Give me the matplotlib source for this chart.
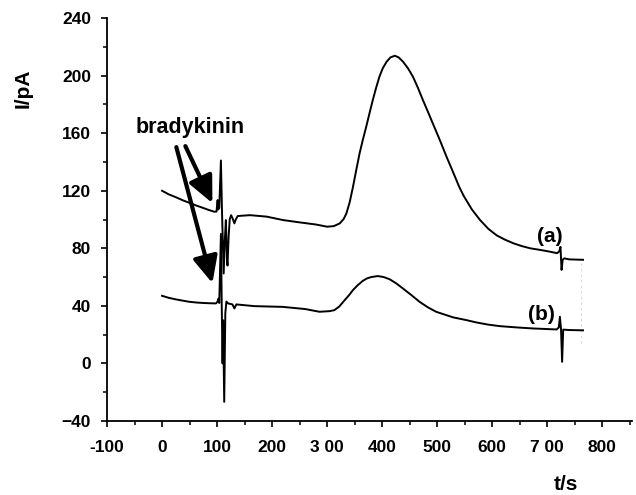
import matplotlib
matplotlib.use("Agg")
import matplotlib.pyplot as plt
from matplotlib.ticker import MultipleLocator, FixedLocator

plt.rcParams['font.family'] = ['Liberation Sans', 'DejaVu Sans']
plt.rcParams['font.weight'] = 'bold'

# ---- data ----
t_a = [0, 12, 25, 38, 51, 63, 75, 85, 95, 99, 101, 102, 104, 107, 109, 112, 114, 116, 118,
       119, 121, 123, 125.5, 128, 131.5, 134, 137.5, 144, 160, 190, 220, 250, 280, 300,
       312, 323, 330, 335, 341, 347, 353, 359, 365, 371, 377, 383, 389, 395, 401, 408,
       415, 423, 430, 438, 447, 456, 465, 474, 483, 492, 505, 517, 529, 540, 548, 563,
       578, 593, 608, 623, 639, 654, 669, 685, 700, 718, 722, 724, 726, 728, 731, 740, 765]
i_a = [120, 117.5, 115.5, 113.3, 111.4, 109.6, 108, 106.6, 105.4, 105.5, 113.5, 107, 108,
       141, 105, 62.5, 85, 99.6, 72, 68, 88, 100, 103, 101, 97.3, 100, 102.4, 102.6, 103,
       102, 99.6, 98, 96.5, 95, 95.4, 97.3, 100.3, 104.2, 112, 122.7, 134.5, 146, 155.5,
       164.4, 173.8, 183, 191.5, 199.2, 205, 209.6, 212.6, 213.8, 212.6, 209.6, 205,
       199.2, 191.5, 183, 175, 166.8, 155, 143.6, 132.8, 122.7, 116.5, 107, 99.6, 93.5, 89,
       86, 83.4, 81.5, 80, 79, 78, 76.6, 78, 81, 65, 72, 73, 72.3, 72]

t_b = [0, 12, 25, 38, 50, 63, 75, 87, 98, 101, 102.5, 104, 107, 108.5, 110, 111, 113, 115,
       117, 120, 128, 131.5, 135, 168, 219, 260, 286, 304, 313, 322, 332, 340, 347, 356,
       365, 372, 380, 392, 403, 414, 426, 438, 453, 468, 483, 498, 513, 529, 553, 571,
       592, 614, 645, 674, 717, 721, 723, 725, 727, 729, 740, 765]
i_b = [47, 45.6, 44.5, 43.6, 42.8, 42.3, 42, 41.8, 41.7, 43, 45, 42, 90, 40, 0, 30, -26.7,
       35, 43, 41.7, 41, 38.2, 41, 39.8, 39.3, 37.8, 35.9, 36.3, 37, 39.5, 44, 47.5, 51,
       54.5, 57.4, 59, 60, 60.7, 60, 58.4, 55.5, 52, 47.5, 42.8, 39, 35.9, 34, 32, 30.1,
       28.5, 27, 25.9, 25, 24.3, 23.6, 25, 32.4, 24, 1.1, 23.5, 23.2, 23]

# faint scanning remnant (dotted gray trace at the right end)
t_ghost = [762, 762]
i_ghost = [69.7, 12.7]

x_major = [-100, 0, 100, 200, 300, 400, 500, 600, 700, 800]
x_labels = ['-100', '0', '100', '200', '3 00', '400', '500', '600', '7 00', '800']
y_major = [-40, 0, 40, 80, 120, 160, 200, 240]

fig = plt.figure(figsize=(6.36, 4.95), dpi=100)
ax = fig.add_axes([107 / 636, 1 - 421 / 495, (632 - 107) / 636, (421 - 18) / 495])

ax.plot(t_ghost, i_ghost, color='#d8d8d8', lw=0.8, ls=(0, (2, 3)))
ax.plot(t_a, i_a, color='black', lw=1.4, solid_joinstyle='round')
ax.plot(t_b, i_b, color='black', lw=1.4, solid_joinstyle='round')

ax.set_xlim(-100, 854)
ax.set_ylim(-40, 240)

ax.xaxis.set_major_locator(FixedLocator(x_major))
ax.set_xticklabels(x_labels)
ax.xaxis.set_minor_locator(MultipleLocator(50))
ax.yaxis.set_major_locator(FixedLocator(y_major))
ax.yaxis.set_minor_locator(MultipleLocator(20))

for s in ['top', 'right']:
    ax.spines[s].set_visible(False)
for s in ['left', 'bottom']:
    ax.spines[s].set_linewidth(1.3)

ax.tick_params(axis='both', which='major', direction='out', length=4.5, width=1.2,
               labelsize=12.5)
ax.tick_params(axis='both', which='minor', direction='out', length=3, width=1.1)
ax.tick_params(axis='y', which='major', pad=7)
ax.tick_params(axis='x', which='major', pad=9)
for lab in ax.get_xticklabels() + ax.get_yticklabels():
    lab.set_fontweight('bold')

fig.text(23.5 / 636, 1 - 88 / 495, 'I/pA', rotation=90, ha='center', va='center',
         fontsize=15, fontweight='bold')
fig.text(566 / 636, 1 - 485 / 495, 't/s', ha='center', va='center',
         fontsize=15, fontweight='bold')

ax.text(50.7, 164, 'bradykinin', ha='center', va='center', fontsize=15.5, fontweight='bold')
ax.text(705, 88, '(a)', ha='center', va='center', fontsize=15, fontweight='bold')
ax.text(689, 34, '(b)', ha='center', va='center', fontsize=15, fontweight='bold')

arrow = dict(arrowstyle='-|>,head_length=0.9,head_width=0.42', lw=3.0, color='black',
             shrinkA=0, shrinkB=0, mutation_scale=18)
ax.annotate('', xy=(91.5, 55.8), xytext=(26, 150.3), arrowprops=arrow)
ax.annotate('', xy=(91.5, 111.4), xytext=(42.4, 151), arrowprops=arrow)

fig.savefig('out.png', dpi=100)
